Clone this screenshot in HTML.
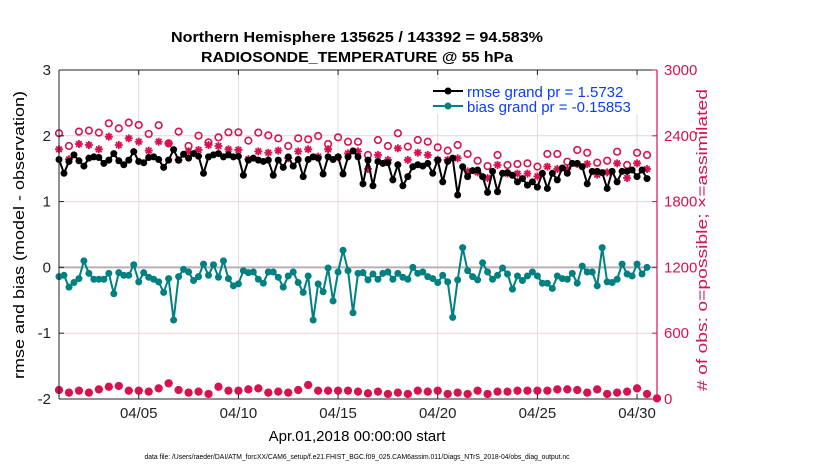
<!DOCTYPE html>
<html><head><meta charset="utf-8"><style>
body{margin:0;background:#fff;}
svg{display:block;font-family:"Liberation Sans",sans-serif;}
</style></head><body>
<svg id="chart" width="830" height="470" viewBox="0 0 830 470" xmlns="http://www.w3.org/2000/svg">
<rect width="830" height="470" fill="#fff"/>
<g id="grid"></g>
<g id="series"></g>
<g id="axes"></g>
<text x="357" y="42" text-anchor="middle" font-size="15" font-weight="bold" textLength="372" lengthAdjust="spacingAndGlyphs">Northern Hemisphere 135625 / 143392 = 94.583%</text>
<text x="357" y="62" text-anchor="middle" font-size="15" font-weight="bold" textLength="312" lengthAdjust="spacingAndGlyphs">RADIOSONDE_TEMPERATURE @ 55 hPa</text>
<text transform="translate(24,235) rotate(-90)" text-anchor="middle" font-size="15" textLength="288" lengthAdjust="spacingAndGlyphs">rmse and bias (model - observation)</text>
<text transform="translate(707,240) rotate(-90)" text-anchor="middle" font-size="15" fill="#d6134f" textLength="302" lengthAdjust="spacingAndGlyphs"># of obs: o=possible; ×=assimilated</text>
<text x="357" y="441" text-anchor="middle" font-size="15">Apr.01,2018 00:00:00 start</text>
<text x="357" y="459" text-anchor="middle" font-size="7" textLength="425" lengthAdjust="spacingAndGlyphs">data file: /Users/raeder/DAI/ATM_forcXX/CAM6_setup/f.e21.FHIST_BGC.f09_025.CAM6assim.011/Diags_NTrS_2018-04/obs_diag_output.nc</text>
<g>
<rect x="428" y="80" width="225" height="34" fill="#fff"/>
<line x1="433" y1="91" x2="463" y2="91" stroke="#000" stroke-width="2"/><circle cx="448" cy="91" r="3.5" fill="#000"/>
<text x="467" y="97" font-size="15" fill="#0a3cff">rmse grand pr = 1.5732</text>
<line x1="433" y1="106" x2="463" y2="106" stroke="#008080" stroke-width="2"/><circle cx="448" cy="106" r="3.5" fill="#008080"/>
<text x="467" y="112" font-size="15" fill="#0a3cff">bias grand pr = -0.15853</text>
</g>
</svg>
<script>
const rmse=[1.64,1.43,1.61,1.71,1.62,1.54,1.66,1.68,1.67,1.58,1.63,1.73,1.62,1.56,1.63,1.76,1.61,1.59,1.67,1.68,1.64,1.52,1.63,1.79,1.63,1.72,1.66,1.73,1.69,1.43,1.68,1.71,1.73,1.68,1.71,1.68,1.69,1.40,1.63,1.66,1.63,1.61,1.63,1.40,1.63,1.52,1.68,1.54,1.64,1.38,1.64,1.68,1.66,1.42,1.68,1.64,1.68,1.42,1.68,1.77,1.68,1.27,1.63,1.24,1.61,1.58,1.59,1.33,1.56,1.24,1.38,1.53,1.56,1.54,1.58,1.43,1.63,1.30,1.61,1.66,1.10,1.53,1.38,1.47,1.48,1.38,1.14,1.46,1.15,1.43,1.44,1.40,1.30,1.35,1.25,1.30,1.22,1.43,1.20,1.43,1.33,1.51,1.43,1.58,1.58,1.53,1.27,1.46,1.46,1.44,1.20,1.46,1.30,1.46,1.46,1.48,1.38,1.48,1.35];
const bias=[-0.14,-0.12,-0.30,-0.23,-0.17,0.10,-0.09,-0.18,-0.18,-0.18,-0.09,-0.40,-0.08,-0.12,-0.12,0.04,-0.22,-0.08,-0.15,-0.18,-0.22,-0.38,-0.17,-0.80,-0.14,-0.03,-0.07,-0.20,-0.14,0.05,-0.12,0.04,-0.15,0.10,-0.17,-0.28,-0.25,-0.05,-0.08,-0.07,-0.18,-0.24,-0.07,-0.07,-0.15,-0.30,-0.13,-0.07,-0.23,-0.38,-0.13,-0.80,-0.25,-0.37,-0.01,-0.51,-0.07,0.26,-0.05,-0.69,-0.09,-0.08,-0.19,-0.10,-0.18,-0.09,-0.07,-0.18,-0.09,-0.15,-0.18,0.00,-0.09,-0.07,-0.14,-0.17,-0.23,-0.12,-0.22,-0.76,-0.19,0.30,-0.05,-0.14,-0.19,0.07,-0.07,-0.18,-0.12,-0.01,-0.10,-0.33,-0.13,-0.20,-0.13,-0.07,-0.13,-0.24,-0.24,-0.32,-0.13,-0.17,-0.18,-0.09,-0.24,0.02,-0.07,-0.07,-0.28,0.30,-0.22,-0.23,-0.18,0.05,-0.10,-0.13,0.05,-0.10,0.00];
const possible=[2423,2307,2438,2447,2429,2514,2468,2520,2499,2417,2496,2331,2438,2307,2401,2340,2386,2432,2432,2356,2429,2404,2377,2307,2377,2368,2398,2325,2386,2346,2346,2225,2362,2307,2423,2301,2362,2346,2295,2265,2316,2234,2173,2124,2225,2134,2143,2149,2119,2234,2234,2164,2271,2246,2155,2173,2255,2134,2246,2225];
const assimilated=[2277,2186,2325,2316,2277,2392,2316,2377,2346,2265,2346,2331,2180,2258,2271,2316,2307,2277,2271,2186,2258,2246,2265,2195,2258,2277,2210,2277,2204,2240,2258,2097,2225,2180,2286,2180,2246,2225,2180,2180,2195,2076,2067,2015,2134,2055,2055,2055,2030,2119,2097,2097,2143,2143,2046,2067,2149,2015,2149,2097];
const lowCount=[82,58,76,58,88,112,119,76,76,67,97,143,82,58,67,46,112,76,76,88,97,58,67,58,82,128,76,76,76,76,67,52,67,46,58,46,76,67,76,46,58,46,76,46,67,67,76,76,76,76,88,88,82,58,88,46,58,67,97,46,6];
const xTickLabels=["04/05","04/10","04/15","04/20","04/25","04/30"];
const xTickDays=[4,9,14,19,24,29];
const leftTicks=[-2,-1,0,1,2,3];
const rightTicks=[0,600,1200,1800,2400,3000];

const X0=59,X1=657,Y0=70,Y1=399,NS="http://www.w3.org/2000/svg";
const xDay=d=>X0+d*(X1-X0)/30;
const yL=v=>Y1-(v+2)*(Y1-Y0)/5;
const yR=c=>Y1-c*(Y1-Y0)/3000;
const RED="#d6134f";
function mk(tag,attrs,parent){const e=document.createElementNS(NS,tag);for(const k in attrs)e.setAttribute(k,attrs[k]);parent.appendChild(e);return e;}
const grid=document.getElementById('grid'),ser=document.getElementById('series'),ax=document.getElementById('axes');
xTickDays.forEach(d=>{const l=mk('line',{x1:xDay(d),x2:xDay(d),y1:Y0,y2:Y1,stroke:'#dddddd','stroke-width':1},grid);

});
rightTicks.forEach(c=>{const l=mk('line',{x1:X0,x2:X1,y1:yR(c),y2:yR(c),stroke:'#ecd3dc','stroke-width':1},grid);

});
const z=mk('line',{x1:X0,x2:X1,y1:yL(0),y2:yL(0),stroke:'#b8b0b3','stroke-width':2},grid);


function circ(x,y,g){mk('circle',{cx:x,cy:y,r:3.3,fill:'none',stroke:RED,'stroke-width':1.6},g);}
function star(x,y,g){const r=4;let d='';for(let a=0;a<4;a++){const t=a*Math.PI/4;d+=`M${x-r*Math.cos(t)},${y-r*Math.sin(t)}L${x+r*Math.cos(t)},${y+r*Math.sin(t)}`;}
mk('path',{d:d,stroke:RED,'stroke-width':1.8,fill:'none'},g);}
const gP=mk('g',{},ser);


possible.forEach((c,j)=>circ(xDay(j*0.5),yR(c),gP));
const gA=mk('g',{},ser);


assimilated.forEach((c,j)=>star(xDay(j*0.5),yR(c),gA));
const gLow=mk('g',{},ser);


lowCount.forEach((c,j)=>{circ(xDay(j*0.5),yR(c),gLow);star(xDay(j*0.5),yR(c),gLow);mk('circle',{cx:xDay(j*0.5),cy:yR(c),r:2.8,fill:RED},gLow);});
function lineSeries(vals,color,name){const g=mk('g',{},ser);


const pts=vals.map((v,i)=>xDay(i*0.25)+','+yL(v)).join(' ');
mk('polyline',{points:pts,fill:'none',stroke:color,'stroke-width':2},g);
vals.forEach((v,i)=>mk('circle',{cx:xDay(i*0.25),cy:yL(v),r:3.5,fill:color},g));}
lineSeries(bias,'#008080','bias-series');
lineSeries(rmse,'#000000','rmse-series');
mk('line',{x1:X0,x2:X1,y1:Y0,y2:Y0,stroke:'#222','stroke-width':1},ax);
mk('line',{x1:X0,x2:X1,y1:Y1,y2:Y1,stroke:'#222','stroke-width':1},ax);
mk('line',{x1:X0,x2:X0,y1:Y0,y2:Y1,stroke:'#222','stroke-width':1},ax);
mk('line',{x1:X1,x2:X1,y1:Y0,y2:Y1,stroke:RED,'stroke-width':1.2},ax);
xTickDays.forEach((d,i)=>{mk('line',{x1:xDay(d),x2:xDay(d),y1:Y1,y2:Y1-5,stroke:'#222'},ax);mk('line',{x1:xDay(d),x2:xDay(d),y1:Y0,y2:Y0+5,stroke:'#222'},ax);
const t=mk('text',{x:xDay(d),y:418,'text-anchor':'middle','font-size':15,fill:'#222'},ax);t.textContent=xTickLabels[i];

});
leftTicks.forEach(v=>{mk('line',{x1:X0,x2:X0+5,y1:yL(v),y2:yL(v),stroke:'#222'},ax);
const t=mk('text',{x:X0-8,y:yL(v)+5,'text-anchor':'end','font-size':15,fill:'#222'},ax);t.textContent=v;

});
rightTicks.forEach(c=>{mk('line',{x1:X1,x2:X1-5,y1:yR(c),y2:yR(c),stroke:RED},ax);
const t=mk('text',{x:X1+7,y:yR(c)+5,'text-anchor':'start','font-size':15,fill:RED},ax);t.textContent=c;

});
</script>
</body></html>
